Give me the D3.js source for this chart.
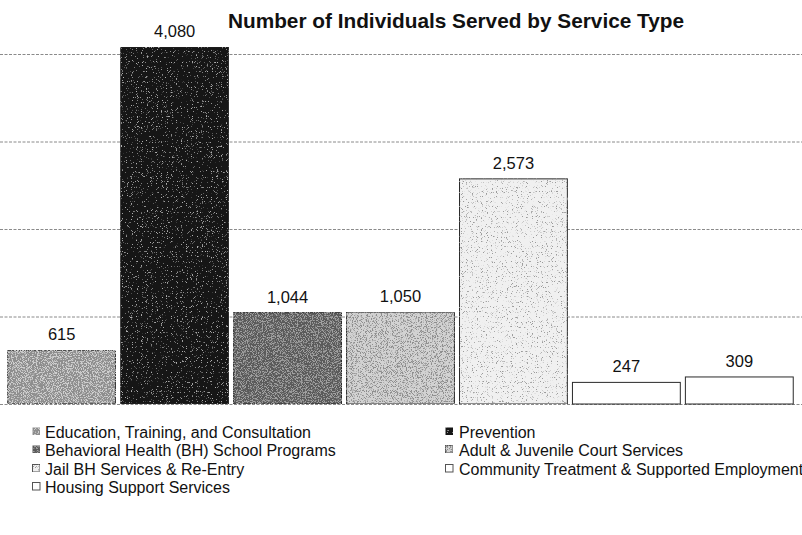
<!DOCTYPE html>
<html>
<head>
<meta charset="utf-8">
<script src="https://cdn.jsdelivr.net/npm/d3@7/dist/d3.min.js"></script>
<style>
  html, body { margin: 0; padding: 0; background: #fff; }
  svg { display: block; }
  text { font-family: "Liberation Sans", Arial, sans-serif; fill: #111; }
</style>
</head>
<body>
<svg id="chart" width="802" height="535"></svg>
<script>
const categories = [
  "Education, Training, and Consultation",
  "Prevention",
  "Behavioral Health (BH) School Programs",
  "Adult & Juvenile Court Services",
  "Jail BH Services & Re-Entry",
  "Community Treatment & Supported Employment",
  "Housing Support Services"
];
const values = [615, 4080, 1044, 1050, 2573, 247, 309];
const yTicks = [0, 1000, 2000, 3000, 4000];
const title = "Number of Individuals Served by Service Type";

const fills = ["#8e8e8e", "#141414", "#5a5a5a", "#d2d2d2", "#f0f0f0", "#ffffff", "#ffffff"];
const speck = ["#cfcfcf", "#b0b0b0", "#a0a0a0", "#8e8e8e", "#9a9a9a", null, null];
const speckAmt = [4.6, 3.3, 4.6, 4.4, 3.5, 0, 0];

const W = 802, H = 535;
const svg = d3.select("#chart");
const defs = svg.append("defs");

// deterministic speckle texture using turbulence filter
fills.forEach((c, i) => {
  if (!speck[i]) return;
  const f = defs.append("filter").attr("id", "tex" + i)
    .attr("x", 0).attr("y", 0).attr("width", 1).attr("height", 1);
  f.append("feTurbulence").attr("type", "fractalNoise").attr("baseFrequency", 1.2)
    .attr("numOctaves", 1).attr("seed", 3 + i).attr("result", "noise");
  f.append("feColorMatrix").attr("in", "noise").attr("type", "matrix")
    .attr("values", "0 0 0 0 0  0 0 0 0 0  0 0 0 0 0  0 0 0 -9 " + speckAmt[i])
    .attr("result", "mask");
  f.append("feFlood").attr("flood-color", speck[i]).attr("result", "col");
  f.append("feComposite").attr("in", "col").attr("in2", "mask").attr("operator", "in").attr("result", "dots");
  f.append("feComposite").attr("in", "dots").attr("in2", "SourceGraphic").attr("operator", "in").attr("result", "dots2");
  f.append("feMerge").call(m => {
    m.append("feMergeNode").attr("in", "SourceGraphic");
    m.append("feMergeNode").attr("in", "dots2");
  });
});

const x = d3.scaleBand().domain(categories).range([5.5, 795.5]).paddingInner(0.045).paddingOuter(0.02);
const y = d3.scaleLinear().domain([0, 4000]).range([404, 54]);

// gridlines
const grid = svg.append("g").attr("class", "grid")
  .attr("transform", `translate(${W},0)`)
  .call(d3.axisLeft(y).tickValues(yTicks).tickSize(-W).tickFormat(""));
grid.select(".domain").remove();
grid.selectAll("line")
  .attr("x1", -W).attr("x2", 0)
  .attr("stroke", "#8a8a8a").attr("stroke-width", 1)
  .attr("stroke-dasharray", "3,1.5");

// bars
svg.append("g").selectAll("rect").data(values).join("rect")
  .attr("x", (d, i) => x(categories[i]))
  .attr("width", x.bandwidth())
  .attr("y", d => y(d))
  .attr("height", d => y(0) - y(d))
  .attr("fill", (d, i) => fills[i])
  .attr("filter", (d, i) => speck[i] ? `url(#tex${i})` : null)
  .attr("stroke", "#2a2a2a").attr("stroke-width", 1);

// value labels
svg.append("g").selectAll("text").data(values).join("text")
  .attr("x", (d, i) => x(categories[i]) + x.bandwidth() / 2)
  .attr("y", d => y(d) - 10)
  .attr("text-anchor", "middle")
  .attr("font-size", 16.5)
  .text(d => d3.format(",")(d));

// title
svg.append("text")
  .attr("x", 456).attr("y", 28)
  .attr("text-anchor", "middle")
  .attr("font-size", 20.8).attr("font-weight", "bold")
  .text(title);

// legend
const colX = [32, 445];
const rowY = [438, 456, 475, 493];
const leg = svg.append("g").selectAll("g").data(categories).join("g")
  .attr("transform", (d, i) => `translate(${colX[i % 2]},${rowY[Math.floor(i / 2)]})`);
leg.append("rect")
  .attr("x", 0.5).attr("y", -10.5).attr("width", 7.5).attr("height", 7.5)
  .attr("fill", (d, i) => fills[i])
  .attr("filter", (d, i) => speck[i] ? `url(#tex${i})` : null)
  .attr("stroke", (d, i) => i >= 3 ? "#555" : "none").attr("stroke-width", 1);
leg.append("text")
  .attr("x", (d, i) => i % 2 === 0 ? 13 : 14)
  .attr("y", 0)
  .attr("font-size", 16)
  .text(d => d);
</script>
</body>
</html>
